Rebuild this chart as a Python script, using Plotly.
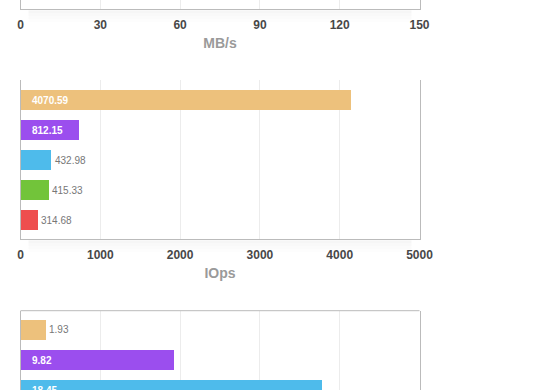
import plotly.graph_objects as go

W, H = 560, 390

# ---- data ----
mbs_ticks = [0, 30, 60, 90, 120, 150]

iops_ticks = [0, 1000, 2000, 3000, 4000, 5000]
iops_values = [4138, 733, 382, 345, 207]          # bar lengths
iops_labels = ["4070.59", "812.15", "432.98", "415.33", "314.68"]
iops_inside = [True, True, False, False, False]

lat_ticks = [0, 5, 10, 15, 20, 25]
lat_values = [1.54, 9.56, 18.89]
lat_labels = ["1.93", "9.82", "18.45"]
lat_inside = [False, True, True]

colors = ["#EDC17C", "#9B4EEE", "#4EBBEB", "#72C43A", "#EE4E4E"]

# ---- layout helpers (pixel -> paper) ----
X0, X1 = 20.5, 419.5
def py(p):
    return 1 - p / H

FONT = "Liberation Sans, Arial, Helvetica, sans-serif"
GRID = "#ececec"
LINE = "#bbbbbb"

fig = go.Figure()

fig.add_trace(go.Bar(
    x=iops_values, y=list(range(len(iops_values))), orientation="h",
    marker=dict(color=colors[:len(iops_values)], line=dict(width=0)),
    width=0.667, xaxis="x2", yaxis="y2", hoverinfo="skip", showlegend=False))

fig.add_trace(go.Bar(
    x=lat_values, y=list(range(len(lat_values))), orientation="h",
    marker=dict(color=colors[:len(lat_values)], line=dict(width=0)),
    width=0.667, xaxis="x3", yaxis="y3", hoverinfo="skip", showlegend=False))

fig.add_trace(go.Scatter(x=[0], y=[0], mode="markers", marker=dict(opacity=0),
                         xaxis="x", yaxis="y", hoverinfo="skip", showlegend=False))

annotations = []
def add_labels(vals, labels, inside, xref, yref):
    for i, (v, t, ins) in enumerate(zip(vals, labels, inside)):
        if ins:
            annotations.append(dict(x=0, y=i, xref=xref, yref=yref, text=t,
                                    showarrow=False, xanchor="left", yanchor="middle",
                                    xshift=9,
                                    font=dict(family=FONT, size=10, color="white", weight="bold")))
        else:
            annotations.append(dict(x=v, y=i, xref=xref, yref=yref, text=t,
                                    showarrow=False, xanchor="left", yanchor="middle",
                                    xshift=2,
                                    font=dict(family=FONT, size=10, color="#777777")))

add_labels(iops_values, iops_labels, iops_inside, "x2", "y2")
add_labels(lat_values, lat_labels, lat_inside, "x3", "y3")

def xax(rng, ticks, anchor, title=None, labels=True):
    d = dict(domain=[X0 / W, X1 / W], range=rng, tickvals=ticks, anchor=anchor,
             showgrid=True, gridcolor=GRID, gridwidth=1, zeroline=False,
             showline=True, linecolor=LINE, linewidth=1, mirror=False,
             ticks="", showticklabels=labels, fixedrange=True, automargin=False,
             tickfont=dict(family=FONT, size=12, color="#484848", weight="bold"),
             ticklabelstandoff=4)
    if title:
        d["title"] = dict(text=title, standoff=7,
                          font=dict(family=FONT, size=14, color="#9a9a9a", weight="bold"))
    return d

def yax(rng, dom, anchor):
    return dict(domain=dom, range=rng, anchor=anchor, showgrid=False, zeroline=False,
                showline=True, linecolor=LINE, linewidth=1, mirror=True,
                showticklabels=False, ticks="", fixedrange=True, automargin=False)

layout = dict(
    width=W, height=H, margin=dict(l=0, r=0, t=0, b=0, autoexpand=False),
    paper_bgcolor="white", plot_bgcolor="white",
    xaxis=xax([0, 150], mbs_ticks, "y", "MB/s"),
    yaxis=yax([0, 1], [py(9.3), 1], "x"),
    xaxis2=xax([0, 5000], iops_ticks, "y2", "IOps"),
    yaxis2=yax([4.643, -0.657], [py(239.3), py(80.3)], "x2"),
    xaxis3=xax([0, 25], lat_ticks, "y3", None, labels=False),
    yaxis3=yax([2.0, -0.643], [0, py(310.7)], "x3"),
    annotations=annotations,
    bargap=0,
)
layout["xaxis3"]["showline"] = False
shapes = [dict(type="line", xref="paper", yref="paper", x0=X0 / W, x1=X1 / W,
               y0=py(310.7), y1=py(310.7), line=dict(color=LINE, width=1), layer="above")]
for base in (9.3, 239.3):
    for k, a in enumerate([0.035, 0.025, 0.015, 0.008]):
        shapes.append(dict(type="rect", xref="paper", yref="paper",
                           x0=(X0 + 8) / W, x1=(X1 - 8) / W,
                           y0=py(base + 1 + 3 * (k + 1)), y1=py(base + 1 + 3 * k),
                           fillcolor=f"rgba(0,0,0,{a})", line=dict(width=0), layer="below"))
layout["shapes"] = shapes

fig.update_layout(**layout)
fig.write_html("out.html", config={"displayModeBar": False},
               post_script="document.body.style.margin='0';document.body.style.overflow='hidden';")
